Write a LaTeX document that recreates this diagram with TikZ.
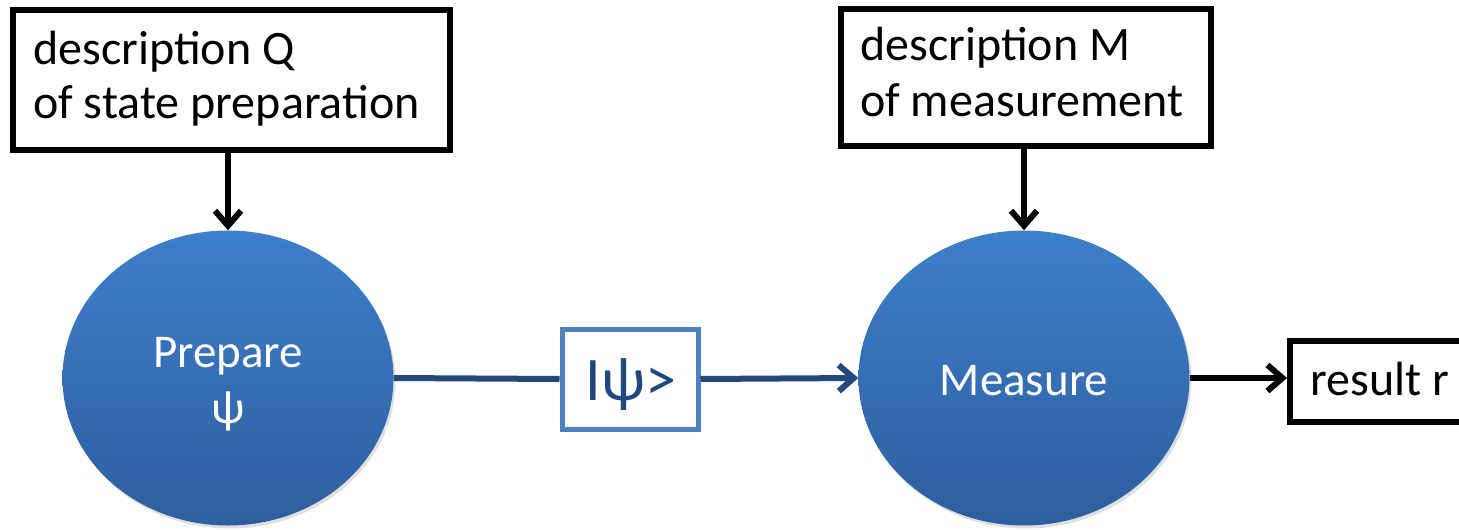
\documentclass[tikz,border=0pt]{standalone}
\usepackage{fontspec}
\setmainfont{Carlito}
\usetikzlibrary{shapes.geometric,arrows.meta,shadows}
\definecolor{ballTop}{RGB}{61,127,203}
\definecolor{ballBot}{RGB}{46,94,158}
\definecolor{flowLine}{RGB}{37,72,122}
\definecolor{psiBorder}{RGB}{79,129,189}
\definecolor{psiText}{RGB}{31,73,125}
\tikzset{
  descbox/.style={draw=black, line width=5.5pt, fill=white, rectangle, inner sep=0pt},
  ball/.style={ellipse, inner sep=0pt, minimum width=331pt, minimum height=295pt,
    top color=ballTop, bottom color=ballBot, draw=none,
    drop shadow={opacity=0.25, shadow xshift=2pt, shadow yshift=-3pt}},
  balltext/.style={text=white, font=\fontsize{47}{54}\selectfont, anchor=base},
  boxtext/.style={font=\fontsize{48}{54}\selectfont, anchor=base west, inner sep=0pt},
  blackarrow/.style={line width=6pt, -{Straight Barb[length=15pt,width=26pt]}},
  bluearrow/.style={draw=flowLine, line width=6pt, -{Straight Barb[length=15pt,width=26pt]}},
  blueline/.style={draw=flowLine, line width=6pt},
}
\begin{document}
\begin{tikzpicture}[x=1pt,y=-1pt]
\useasboundingbox (0,0) rectangle (1459,530);
\clip (0,0) rectangle (1459,530);
\fill[white] (0,0) rectangle (1459,530);

% description Q
\node[descbox, minimum width=437pt, minimum height=140pt, anchor=north west] (Q) at (10,7) {};
\node[boxtext] (Q1) at (33,64) {description Q};
\node[boxtext] (Q2) at (33,118) {of state preparation};

% description M
\node[descbox, minimum width=370pt, minimum height=137pt, anchor=north west] (Mdesc) at (838,6) {};
\node[boxtext] (M1) at (860,60) {description M};
\node[boxtext] (M2) at (860,116) {of measurement};

% ellipses
\node[ball] (P) at (228,378) {};
\node[balltext] (P1) at (228,367) {Prepare};
\node[balltext] (P2) at (228,423) {ψ};

\node[ball] (Ms) at (1024,378) {};
\node[balltext] (Ms1) at (1024,395) {Measure};

% psi box
\node[draw=psiBorder, line width=5pt, fill=white, minimum width=136pt, minimum height=100pt, inner sep=0pt] (S) at (630,379) {};
\node[text=psiText, font=\fontsize{62}{66}\selectfont, anchor=base, inner sep=0pt] (S1) at (631,400) {Iψ>};

% result box
\node[descbox, minimum width=200pt, minimum height=81pt, anchor=north west] (R) at (1287,338) {};
\node[boxtext] (R1) at (1310,395) {result r};

% connectors
\draw[blackarrow] (Q.south -| P.north) -- (P.north);
\draw[blackarrow] (Mdesc.south -| Ms.north) -- (Ms.north);
\draw[blueline] (P.east) -- (S.west);
\draw[bluearrow] (S.east) -- (Ms.west);
\draw[blackarrow] (Ms.east) -- (Ms.east -| R.west);
\end{tikzpicture}
\end{document}
